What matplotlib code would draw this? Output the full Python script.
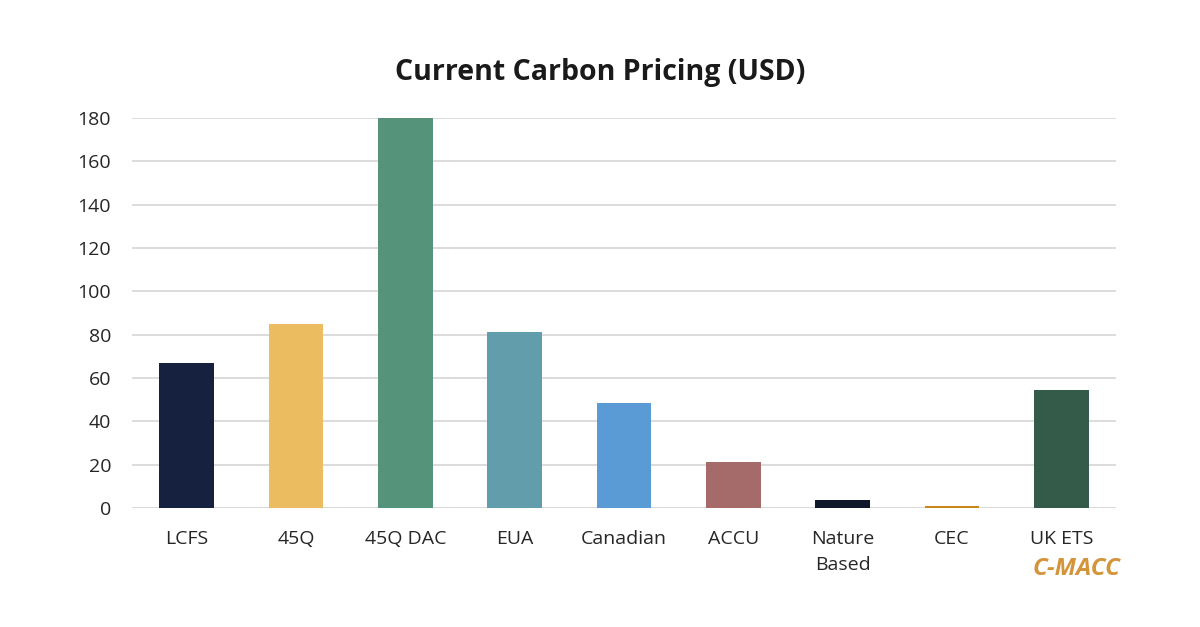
import matplotlib.pyplot as plt

# Data
categories = ['LCFS', '45Q', '45Q DAC', 'EUA', 'Canadian', 'ACCU',
              'Nature\nBased', 'CEC', 'UK ETS']
prices = [67, 85, 180, 81, 48.5, 21, 3.5, 1, 54.5]
bar_colors = ['#16203f', '#ecbc60', '#55937a', '#629dab', '#5b9bd5',
              '#a56b6a', '#0f172b', '#c9861a', '#345a4a']
y_ticks = list(range(0, 181, 20))

plt.rcParams['font.family'] = ['Open Sans', 'DejaVu Sans']

fig = plt.figure(figsize=(12, 6.27), dpi=100, facecolor='white')
ax = fig.add_axes([0.11, 0.19, 0.82, 0.622])

x = range(len(categories))
ax.bar(x, prices, width=0.5, color=bar_colors, zorder=3)

ax.set_xlim(-0.5, len(categories) - 0.5)
ax.set_ylim(0, 180)
ax.set_yticks(y_ticks)
ax.set_xticks(list(x))
ax.set_xticklabels(categories, fontsize=14, color='#262626', linespacing=1.6)
ax.tick_params(axis='y', labelsize=14, labelcolor='#262626', length=0, pad=15)
ax.tick_params(axis='x', length=0, pad=16)

ax.grid(axis='y', color='#d9d9d9', linewidth=1.3, zorder=0)
ax.set_axisbelow(True)
for side in ['top', 'right', 'left', 'bottom']:
    ax.spines[side].set_visible(False)
ax.axhline(0, color='#d9d9d9', linewidth=1.3, zorder=1)

fig.text(0.5, 0.885, 'Current Carbon Pricing (USD)', ha='center', va='center',
         fontsize=20.5, fontweight='bold', color='#1a1a1a')

# logo text
fig.text(0.934, 0.092, 'C-MACC', ha='right', va='center', fontsize=17.5,
         fontweight='bold', fontstyle='italic', color='#d4943a')

fig.savefig('out.png', dpi=100, facecolor='white')
